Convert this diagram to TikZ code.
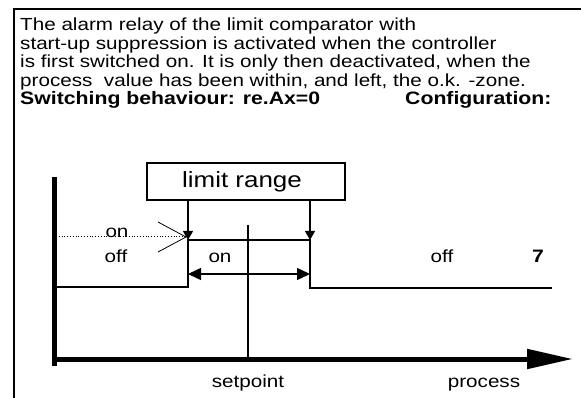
\documentclass[tikz,border=0pt]{standalone}
\usepackage{fontspec}
\setmainfont{Liberation Sans}[FakeStretch=1.18]
\usetikzlibrary{arrows.meta}
\tikzset{
  txt/.style={anchor=base west, inner sep=0pt, font=\fontsize{17.5}{20}\selectfont},
  lbl/.style={anchor=base, inner sep=0pt, font=\fontsize{17.5}{20}\selectfont},
  signal/.style={line width=2pt, line join=miter},
  pointer/.style={-{Triangle[width=10pt,length=9pt]}, line width=1.2pt}
}
\begin{document}
\begin{tikzpicture}[x=1pt, y=-1pt]
  \useasboundingbox (0,0) rectangle (581,398);
  %--- frame ---
  \draw[line width=2pt] (14,400) -- (14,9) -- (582,9);

  %--- description ---
  \node[txt] (l1) at (20,31) {The alarm relay of the limit comparator with};
  \node[txt] (l2) at (20,49.5) {start-up suppression is activated when the controller};
  \node[txt] (l3) at (20,68) {is first switched on. It is only then deactivated, when the};
  \node[txt] (l4) at (20,86.5) {process\ \ value has been within, and left, the o.k. -zone.};
  \node[txt, font=\fontsize{18}{20}\selectfont\bfseries] (l5) at (20,105) {Switching behaviour: re.Ax=0};
  \node[txt, font=\fontsize{18}{20}\selectfont\bfseries] (cfg) at (405,105) {Configuration:};

  %--- axes ---
  \coordinate (origin) at (54,359);
  \coordinate (ytop) at (54,177);
  \coordinate (xend) at (573,359);
  \draw[line width=5pt] (54,366) -- (ytop);
  \draw[line width=5pt, -{Triangle[width=19pt,length=46pt]}] (51.5,359) -- (xend);

  %--- setpoint ---
  \coordinate (sptop) at (248,225);
  \coordinate (spbot) at (248,359);
  \draw[line width=1.5pt] (sptop) -- (spbot);
  \node[lbl] (sp) at (248,387) {setpoint};
  \node[lbl] (proc) at (484,387) {process};

  %--- limit range ---
  \node[draw, line width=1.5pt, minimum width=198pt, minimum height=37pt, inner sep=0pt,
        font=\fontsize{22}{24}\selectfont] (range) at (246,181.5) {\hspace*{-8pt}limit range};
  \coordinate (lo) at (188,240);
  \coordinate (hi) at (310,240);
  \draw[pointer] (lo |- range.south) -- (lo);
  \draw[pointer] (hi |- range.south) -- (hi);

  %--- switching curve ---
  \coordinate (lostart) at (56,287);
  \coordinate (loend) at (552,288);
  \draw[signal] (lostart) -- (188,287) -- (lo) -- (hi) -- (310,288) -- (loend);
  \draw[{Triangle[width=12pt,length=13pt]}-{Triangle[width=12pt,length=13pt]}, line width=1.5pt]
    (188,274) -- (310,274);

  %--- labels ---
  \node[lbl] (on1) at (117,237) {on};
  \node[lbl] (off1) at (116,262) {off};
  \node[lbl] (on2) at (220,262) {on};
  \node[lbl] (off2) at (442,262) {off};
  \node[lbl, font=\fontsize{18}{20}\selectfont\bfseries] (seven) at (538,262) {7};
  \draw[dotted, line width=0.8pt] (56,236) -- (185,236);
  \coordinate (tip) at (186,237);
  \draw[line width=0.8pt] (158,222) -- (tip);
  \draw[line width=0.8pt] (158,252) -- (tip);
\end{tikzpicture}
\end{document}
